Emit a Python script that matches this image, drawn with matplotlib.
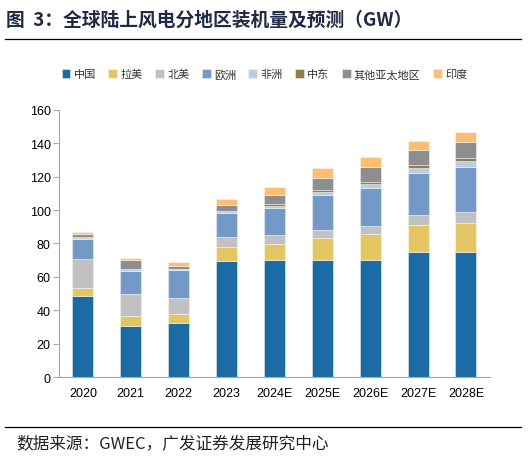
import matplotlib
matplotlib.use("Agg")
import matplotlib.pyplot as plt
import numpy as np

plt.rcParams['font.family'] = ['Liberation Sans', 'Noto Sans CJK SC', 'DejaVu Sans']

# data (GW)
years = ['2020', '2021', '2022', '2023', '2024E', '2025E', '2026E', '2027E', '2028E']
regions = ['中国', '拉美', '北美', '欧洲', '非洲', '中东', '其他亚太地区', '印度']
china  = [48.8, 30.6, 32.3, 69.3, 70.0, 70.1, 70.0, 75.1, 75.0]
latam  = [4.5, 5.8, 5.4, 8.4, 9.6, 13.2, 15.5, 16.0, 17.1]
namer  = [17.2, 13.3, 9.5, 6.0, 5.5, 5.0, 5.2, 6.0, 6.8]
europe = [12.2, 14.0, 16.9, 14.6, 16.3, 20.9, 22.7, 25.3, 27.1]
africa = [0.8, 1.0, 0.5, 1.0, 1.2, 1.6, 2.1, 2.8, 3.4]
mideast = [0.2, 0.3, 0.3, 0.3, 0.9, 1.2, 1.5, 1.6, 1.6]
apac   = [2.0, 5.0, 1.8, 3.5, 5.7, 7.4, 9.0, 9.0, 9.8]
india  = [1.1, 1.5, 2.0, 3.8, 4.9, 6.0, 5.6, 5.6, 6.2]

series = [china, latam, namer, europe, africa, mideast, apac, india]
colors = ['#1B6BA6', '#E3C663', '#C1C1C1', '#7399C7', '#B9CDE5', '#8C7F47', '#8E8E8E', '#FBBE72']

fig = plt.figure(figsize=(5.29, 4.60), dpi=100)
ax = fig.add_axes([0.1115, 0.178, 0.8145, 0.581])

x = np.arange(len(years))
bottom = np.zeros(len(years))
for name, vals, c in zip(regions, series, colors):
    vals = np.array(vals)
    ax.bar(x, vals, 0.44, bottom=bottom, color=c, label=name,
           edgecolor=(1, 1, 1, 0.5), linewidth=0.6)
    bottom += vals

ax.set_xlim(-0.5, len(years) - 0.5)
ax.set_ylim(0, 160)
ax.set_yticks(np.arange(0, 161, 20))
ax.set_xticks(x)
ax.set_xticklabels(years)
for s in ['top', 'right']:
    ax.spines[s].set_visible(False)
ax.spines['left'].set_color('#A6A6A6')
ax.spines['bottom'].set_color('#A6A6A6')
ax.tick_params(axis='y', length=4, color='#A6A6A6', labelsize=9, pad=2)
ax.tick_params(axis='x', length=0, labelsize=9, pad=7)

leg = fig.legend(loc='center', bbox_to_anchor=(0.5, 0.837), ncol=8, frameon=False,
                 handlelength=0.8, handleheight=0.8, handletextpad=0.3,
                 columnspacing=1.1, prop={'family': ['Noto Sans CJK SC'], 'size': 8})
for t in leg.get_texts():
    t.set_color('#333333')

fig.text(0.012, 0.955, '图  3：全球陆上风电分地区装机量及预测（GW）', fontsize=13.5,
         fontweight='bold', color='#1F2A44', va='center',
         family=['Noto Sans CJK SC', 'DejaVu Sans'])
fig.add_artist(plt.Line2D([0.01, 0.985], [0.912, 0.912], color='black', linewidth=0.9))
fig.add_artist(plt.Line2D([0.01, 0.985], [0.07, 0.07], color='black', linewidth=0.9))
fig.text(0.03, 0.035, '数据来源：GWEC，广发证券发展研究中心', fontsize=12,
         color='#222222', va='center', family=['Noto Sans CJK SC', 'DejaVu Sans'])

fig.savefig('out.png', dpi=100)
